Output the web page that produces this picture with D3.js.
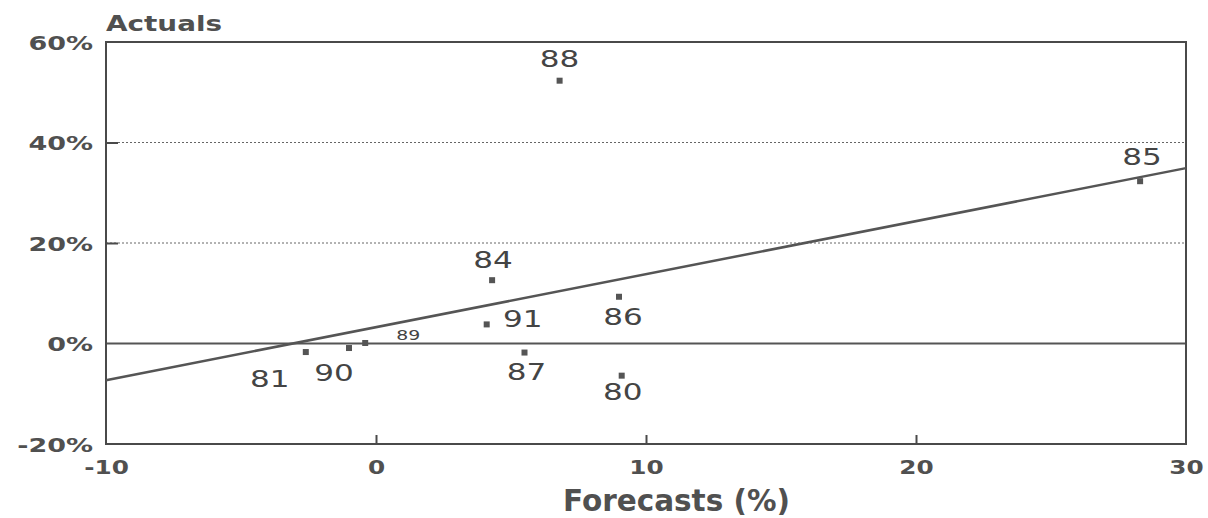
<!DOCTYPE html>
<html>
<head>
<meta charset="utf-8">
<script src="https://cdn.jsdelivr.net/npm/d3@7"></script>
<style>
  html, body { margin: 0; padding: 0; background: #fff; }
  svg { display: block; }
</style>
</head>
<body>
<svg id="chart" width="1208" height="518"></svg>
<script>
// ---- data ----
const years     = ["80", "81", "84", "85", "86", "87", "88", "89", "90", "91"];
const forecasts = [9.1, -2.6, 4.3, 28.3, 9.0, 5.5, 6.8, -0.4, -1.0, 4.1];
const actuals   = [-6.4, -1.7, 12.6, 32.3, 9.3, -1.8, 52.3, 0.1, -0.9, 3.8];
const trendX    = [-10, 30];
const trendY    = [-7.3, 34.9];
const xTicks    = [-10, 0, 10, 20, 30];
const xTickLabels = ["-10", "0", "10", "20", "30"];
const yTicks    = [-20, 0, 20, 40, 60];
const yTickLabels = ["-20%", "0%", "20%", "40%", "60%"];
const yTitle = "Actuals";
const xTitle = "Forecasts (%)";

// ---- layout ----
const W = 1208, H = 518;
const m = { left: 106, top: 42, right: 22, bottom: 74 };
const iw = W - m.left - m.right, ih = H - m.top - m.bottom;
const ink = "#4a4a4a", txt = "#505050";
const FONT = "'DejaVu Sans', sans-serif";

const svg = d3.select("#chart");
const g = svg.append("g").attr("transform", `translate(${m.left},${m.top})`);

const x = d3.scaleLinear().domain([-10, 30]).range([0, iw]);
const y = d3.scaleLinear().domain([-20, 60]).range([ih, 0]);

function stretch(sel, factor) {
  sel.each(function () {
    const n = this.getComputedTextLength();
    d3.select(this).attr("textLength", n * factor).attr("lengthAdjust", "spacingAndGlyphs");
  });
}

// gridlines (dotted) at 20 and 40
g.selectAll("line.grid").data(yTicks.filter(v => v === 20 || v === 40)).join("line")
  .attr("class", "grid")
  .attr("x1", 0).attr("x2", iw)
  .attr("y1", d => y(d)).attr("y2", d => y(d))
  .attr("stroke", "#666").attr("stroke-width", 1)
  .attr("stroke-dasharray", "2,2");

// zero line
g.append("line")
  .attr("x1", 0).attr("x2", iw).attr("y1", y(0)).attr("y2", y(0))
  .attr("stroke", "#555").attr("stroke-width", 2);

// y axis (ticks inside)
const yAxis = g.append("g").call(
  d3.axisLeft(y).tickValues(yTicks).tickSize(-12).tickFormat((d, i) => yTickLabels[i]).tickPadding(13)
);
yAxis.select(".domain").remove();
yAxis.selectAll(".tick line").attr("stroke", ink).attr("stroke-width", 2)
  .attr("display", d => (d === 40 || d === 20) ? null : "none");
yAxis.selectAll("text")
  .attr("x", -13)
  .attr("font-family", FONT).attr("font-weight", "bold")
  .attr("font-size", 20).attr("fill", txt)
  .attr("dy", "0.36em");
stretch(yAxis.selectAll("text"), 1.35);

// x axis (ticks inside)
const xAxis = g.append("g").attr("transform", `translate(0,${ih})`).call(
  d3.axisBottom(x).tickValues(xTicks).tickSize(-9).tickFormat((d, i) => xTickLabels[i]).tickPadding(17)
);
xAxis.select(".domain").remove();
xAxis.selectAll(".tick line").attr("stroke", ink).attr("stroke-width", 2)
  .attr("display", d => (d === -10 || d === 30) ? "none" : null);
xAxis.selectAll("text")
  .attr("y", 17)
  .attr("font-family", FONT).attr("font-weight", "bold")
  .attr("font-size", 19).attr("fill", txt)
  .attr("text-anchor", "middle");
stretch(xAxis.selectAll("text"), 1.3);

// frame
g.append("rect").attr("x", 0).attr("y", 0).attr("width", iw).attr("height", ih)
  .attr("fill", "none").attr("stroke", ink).attr("stroke-width", 2);

// regression line
g.append("line")
  .attr("x1", x(trendX[0])).attr("y1", y(trendY[0]))
  .attr("x2", x(trendX[1])).attr("y2", y(trendY[1]))
  .attr("stroke", "#555").attr("stroke-width", 2.5);

// points
const pts = years.map((yr, i) => ({ yr, fx: forecasts[i], ac: actuals[i] }));
g.selectAll("rect.pt").data(pts).join("rect")
  .attr("class", "pt")
  .attr("x", d => x(d.fx) - 3).attr("y", d => y(d.ac) - 3)
  .attr("width", 6).attr("height", 6)
  .attr("fill", "#555");

// point labels (offsets are placement only)
const labelOffsets = {
  "80": [1, 16], "81": [-36, 27], "84": [1, -20], "85": [2, -24], "86": [4, 20],
  "87": [2, 19], "88": [0, -22], "89": [43, -8], "90": [-15, 25], "91": [36, -6]
};
const lbl = g.selectAll("text.lbl").data(pts).join("text")
  .attr("class", "lbl")
  .attr("x", d => x(d.fx) + labelOffsets[d.yr][0])
  .attr("y", d => y(d.ac) + labelOffsets[d.yr][1])
  .attr("text-anchor", "middle").attr("dy", "0.36em")
  .attr("font-family", FONT).attr("font-weight", 400)
  .attr("font-size", d => d.yr === "89" ? 14 : 23)
  .attr("fill", "#444")
  .text(d => d.yr);
stretch(lbl, 1.35);

// axis titles
svg.append("text").attr("x", m.left).attr("y", 31)
  .attr("font-family", FONT).attr("font-weight", "bold")
  .attr("font-size", 21).attr("fill", txt)
  .attr("textLength", 116).attr("lengthAdjust", "spacingAndGlyphs")
  .text(yTitle);

svg.append("text").attr("x", 563).attr("y", 511)
  .attr("font-family", FONT).attr("font-weight", "bold")
  .attr("font-size", 30).attr("fill", txt)
  .attr("textLength", 227).attr("lengthAdjust", "spacingAndGlyphs")
  .text(xTitle);
</script>
</body>
</html>
